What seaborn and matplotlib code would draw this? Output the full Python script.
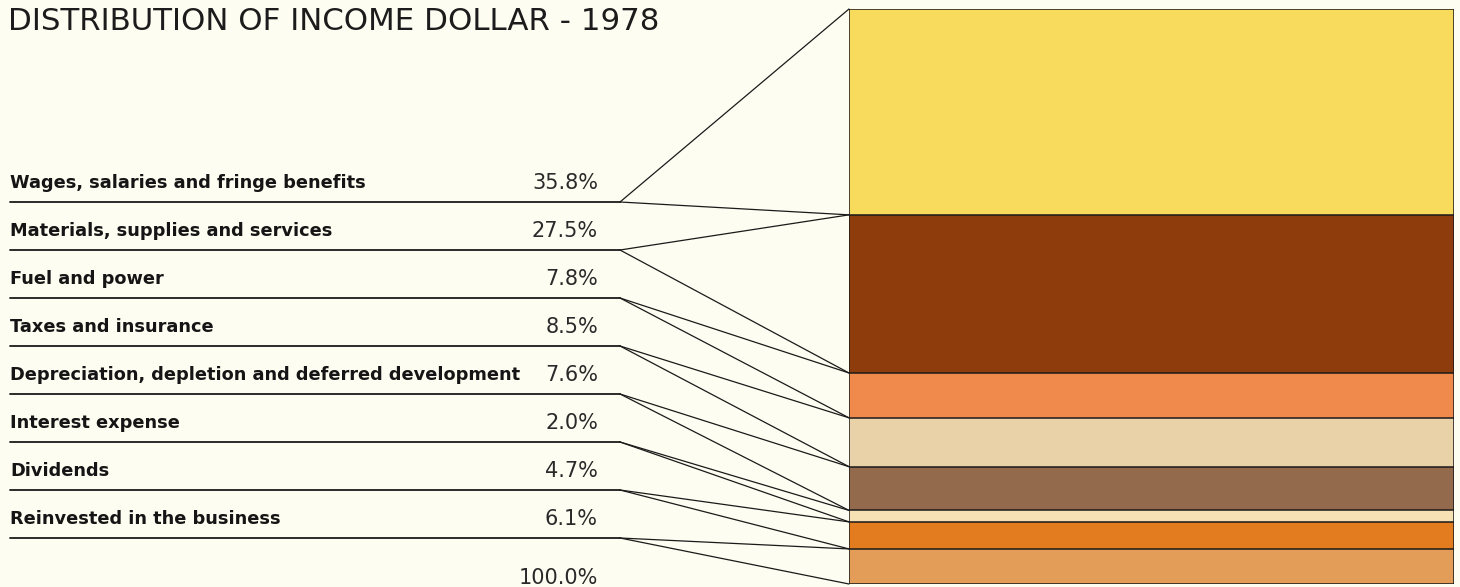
import numpy as np
import pandas as pd
import matplotlib.pyplot as plt
import seaborn as sns
from matplotlib.patches import ConnectionPatch

categories = ['Wages, salaries and fringe benefits',
              'Materials, supplies and services',
              'Fuel and power',
              'Taxes and insurance',
              'Depreciation, depletion and deferred development',
              'Interest expense',
              'Dividends',
              'Reinvested in the business']
shares = [35.8, 27.5, 7.8, 8.5, 7.6, 2.0, 4.7, 6.1]
share_labels = ['35.8%', '27.5%', '7.8%', '8.5%', '7.6%', '2.0%', '4.7%', '6.1%']
total_label = '100.0%'
band_colors = ['#f8da5c', '#8e3c0c', '#f08a4c', '#ead2a8', '#946a4c',
               '#f6e1b4', '#e27c1e', '#e39d58']

bg = '#fefdf1'
sns.set_theme(style='white')
plt.rcParams['font.family'] = ['DejaVu Sans']

fig = plt.figure(figsize=(14.6, 5.87), dpi=100, facecolor=bg)

# left panel works in pixel units of the figure
ax = fig.add_axes([0, 0, 1, 1])
ax.set_xlim(0, 1460)
ax.set_ylim(587, 0)
ax.axis('off')
ax.set_facecolor(bg)

# stacked bar on the right, y in percent (0 at top)
bax = fig.add_axes([849 / 1460, (587 - 584) / 587, (1454 - 849) / 1460, (584 - 9) / 587])
bax.set_facecolor(bg)
df = pd.DataFrame({'cat': categories, 'share': shares, 'color': band_colors})
df['cum'] = df['share'].cumsum()
# draw from the largest cumulative value down so each band overlays the next
for i in range(len(df) - 1, -1, -1):
    sns.barplot(x=[0], y=[df['cum'].iloc[i]], color=df['color'].iloc[i],
                width=1.0, edgecolor='#1a1a1a', linewidth=1.1, saturation=1, ax=bax)
bax.set_xlim(-0.5, 0.5)
bax.set_ylim(100, 0)
bax.axis('off')

ax.text(8, 21, 'DISTRIBUTION OF INCOME DOLLAR - 1978', fontsize=22.2,
        color='#1c1c1c', va='center', ha='left')

row_first = 202
row_h = 48.0
x0, x1 = 10, 620
boundaries = [0] + list(df['cum'])

for k, (cat, lab) in enumerate(zip(categories, share_labels)):
    ysep = row_first + k * row_h
    ax.text(x0, ysep - 19, cat, fontsize=12.8, fontweight='bold',
            color='#151515', va='center', ha='left')
    ax.text(598, ysep - 19, lab, fontsize=15, color='#2a2a2a',
            va='center', ha='right')
    ax.plot([x0, x1], [ysep, ysep], color='#1a1a1a', lw=1.3)
    for b in (boundaries[k], boundaries[k + 1]):
        con = ConnectionPatch(xyA=(x1, ysep), coordsA=ax.transData,
                              xyB=(-0.5, b), coordsB=bax.transData,
                              color='#1a1a1a', lw=0.9)
        fig.add_artist(con)

ax.text(598, row_first + len(categories) * row_h - 8, total_label,
        fontsize=15, color='#2a2a2a', va='center', ha='right')

fig.savefig('out.png', dpi=100, facecolor=bg)
